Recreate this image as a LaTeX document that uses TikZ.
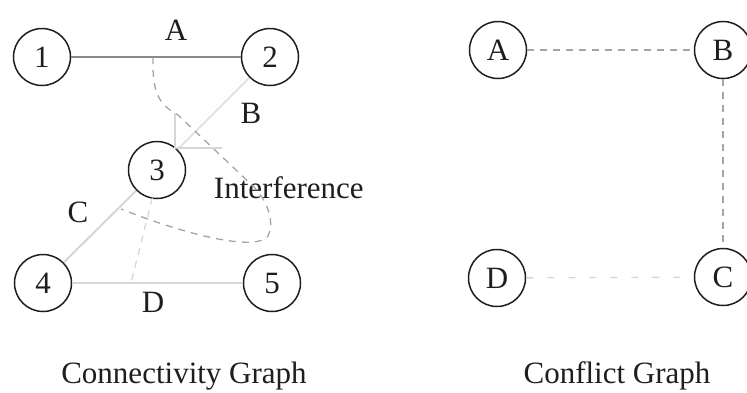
\documentclass[tikz,border=0pt]{standalone}
\usepackage{fontspec}
\setmainfont{Liberation Serif}
\usetikzlibrary{positioning}
\definecolor{cink}{HTML}{1E1E1E}
\definecolor{cedge}{HTML}{8A8A8A}
\definecolor{cfaint}{HTML}{D6D6D6}
\definecolor{cdash}{HTML}{A4A4A4}
\tikzset{
  every picture/.style={line width=1.3pt},
  vertex/.style={circle, draw=cink, line width=1.5pt, minimum size=57pt, inner sep=0pt, font=\fontsize{31}{31}\selectfont, text=cink},
  link/.style={draw=cedge, line width=1.3pt},
  faintlink/.style={draw=cfaint, line width=2pt},
  conflict/.style={draw=cdash, line width=1.3pt, dash pattern=on 7pt off 6pt},
  faintconflict/.style={draw=cfaint, line width=1.3pt, dash pattern=on 7pt off 14pt},
  lbl/.style={font=\fontsize{31}{31}\selectfont, text=cink},
  caption/.style={font=\fontsize{31}{31}\selectfont, text=cink, anchor=base},
}

\begin{document}
\begin{tikzpicture}[x=1pt, y=-1pt]
  \useasboundingbox (0,0) rectangle (747,392);
  % connectivity graph
  \node[vertex] (n1) at (42,57) {1};
  \node[vertex] (n2) at (270,57) {2};
  \node[vertex] (n3) at (157,170) {3};
  \node[vertex] (n4) at (43,283) {4};
  \node[vertex] (n5) at (272,283) {5};
  \draw[link] (n1) -- (n2);
  \draw[faintlink, draw=cfaint!70] (n2) -- (n3);
  \draw[faintlink] (n3) -- (n4);
  \draw[faintlink] (n4) -- (n5);
  \node[lbl] (la) at (176,30) {A};
  \node[lbl] (lb) at (251,113) {B};
  \node[lbl] (lc) at (78,212) {C};
  \node[lbl] (ld) at (153,302) {D};
  \node[lbl, anchor=west] (lint) at (210,188) {Interference};
  % interference marks
  \coordinate (ia) at (153,57);
  \coordinate (ic) at (121,209);
  \coordinate (id) at (131,283);
  \draw[conflict] (ia) .. controls (152,95) and (160,105) .. (178,115) -- (255,188)
    .. controls (270,205) and (274,225) .. (268,236) .. controls (258,250) and (200,240) .. (ic);
  \draw[conflict, draw=cfaint] (n3.south west) ++(16,7) -- (id);
  \draw[faintlink, line width=1.6pt] (175,113) -- (175,148) -- (222,148);
  % conflict graph
  \node[vertex] (ca) at (498,50) {A};
  \node[vertex] (cb) at (723,50) {B};
  \node[vertex] (cc) at (723,277) {C};
  \node[vertex] (cd) at (497,278) {D};
  \draw[conflict] (ca) -- (cb);
  \draw[conflict] (cb) -- (cc);
  \draw[faintconflict] (cd) -- (cc);
  % captions
  \node[caption] (capl) at (184,383) {Connectivity Graph};
  \node[caption] (capr) at (617,383) {Conflict Graph};
\end{tikzpicture}
\end{document}
